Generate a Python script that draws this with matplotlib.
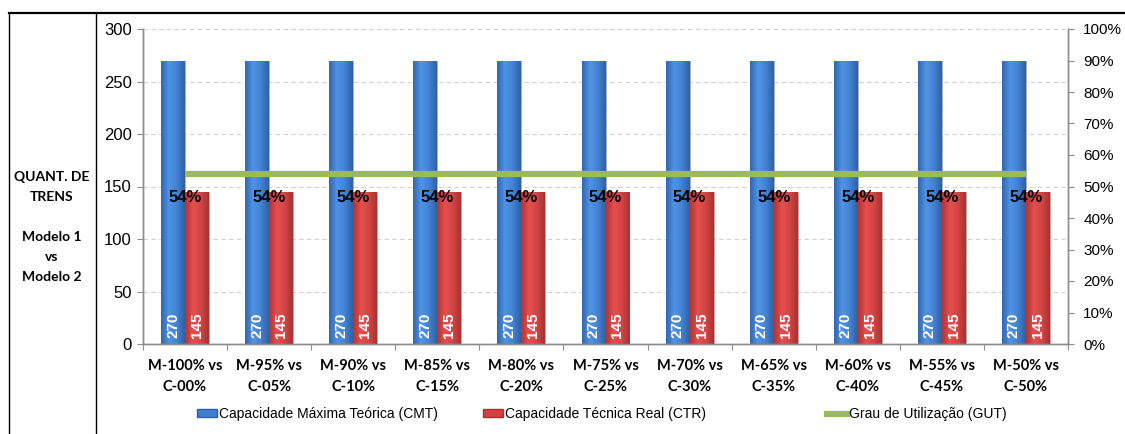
import numpy as np
import matplotlib.pyplot as plt
from matplotlib.colors import LinearSegmentedColormap
from matplotlib.lines import Line2D
from matplotlib.patches import Patch
from matplotlib.ticker import FixedLocator, PercentFormatter

plt.rcParams['font.family'] = ['Liberation Sans', 'DejaVu Sans']

categories = ['M-100% vs\nC-00%', 'M-95% vs\nC-05%', 'M-90% vs\nC-10%',
              'M-85% vs\nC-15%', 'M-80% vs\nC-20%', 'M-75% vs\nC-25%',
              'M-70% vs\nC-30%', 'M-65% vs\nC-35%', 'M-60% vs\nC-40%',
              'M-55% vs\nC-45%', 'M-50% vs\nC-50%']
cmt = [270, 270, 270, 270, 270, 270, 270, 270, 270, 270, 270]
ctr = [145, 145, 145, 145, 145, 145, 145, 145, 145, 145, 145]
gut = [0.54, 0.54, 0.54, 0.54, 0.54, 0.54, 0.54, 0.54, 0.54, 0.54, 0.54]

BLUE = '#3F7FD2'
RED = '#D64040'
GREEN = '#9BBB59'
AXIS_GRAY = '#8C8C8C'

blue_cmap = LinearSegmentedColormap.from_list('cmt', ['#3268AE', '#5093E4', '#4282D4', '#3060A2'])
red_cmap = LinearSegmentedColormap.from_list('ctr', ['#B03636', '#E64E4E', '#D44444', '#A83232'])

fig = plt.figure(figsize=(11.25, 4.34), dpi=100)
ax = fig.add_axes([143 / 1125, 1 - 344 / 434, 925 / 1125, 315 / 434])
ax2 = ax.twinx()

x = np.arange(len(categories))
width = 0.285
bars_cmt = ax.bar(x - width, cmt, width, align='edge', color=BLUE, zorder=2,
                  edgecolor='#A0A0A0', linewidth=0.6, linestyle=':')
bars_ctr = ax.bar(x, ctr, width, align='edge', color=RED, zorder=2,
                  edgecolor='#A0A0A0', linewidth=0.6, linestyle=':')

# cylinder-like shading across each bar
grad = np.linspace(0, 1, 64).reshape(1, -1)
for bars, cmap in ((bars_cmt, blue_cmap), (bars_ctr, red_cmap)):
    for rect in bars:
        x0, y0 = rect.get_x(), rect.get_y()
        im = ax.imshow(grad, cmap=cmap, aspect='auto', zorder=2.1,
                       extent=[x0, x0 + rect.get_width(), y0, y0 + rect.get_height()])
        im.set_clip_path(rect)

for bars, values in ((bars_cmt, cmt), (bars_ctr, ctr)):
    for rect, v in zip(bars, values):
        ax.annotate(f'{v}', (rect.get_x() + rect.get_width() / 2, 0), xytext=(0, 4),
                    textcoords='offset points', rotation=90, ha='center', va='bottom',
                    color='white', fontweight='bold', fontsize=11, zorder=3)

ax.set_xlim(-0.5, len(categories) - 0.5)
ax.set_ylim(0, 300)
ax.set_yticks(range(0, 301, 50))
ax.yaxis.grid(True, linestyle=(0, (4, 3)), color='#D0D0D0', linewidth=0.8)
ax.set_axisbelow(True)

ax.xaxis.set_major_locator(FixedLocator(np.arange(-0.5, len(categories), 1.0)))
ax.xaxis.set_major_formatter(plt.NullFormatter())
ax.xaxis.set_minor_locator(FixedLocator(x))
ax.set_xticklabels(categories, minor=True)
ax.tick_params(axis='x', which='major', length=4, color=AXIS_GRAY, direction='out')
ax.tick_params(axis='x', which='minor', length=0, pad=11)
for lbl in ax.get_xticklabels(minor=True):
    lbl.set_family(['Lato', 'DejaVu Sans'])
    lbl.set_fontweight('bold')
    lbl.set_fontsize(10.5)
    lbl.set_linespacing(1.65)
ax.tick_params(axis='y', length=4, color=AXIS_GRAY, labelsize=12, pad=4)

# utilisation line on the percentage axis
ax2.plot(x, gut, color=GREEN, linewidth=4.5, solid_capstyle='butt', zorder=4)
for xi, g in zip(x, gut):
    ax2.annotate(f'{g:.0%}', (xi, g), xytext=(0, -17), textcoords='offset points',
                 ha='center', va='center', fontsize=12, fontweight='bold',
                 family=['Liberation Sans Narrow', 'Liberation Sans', 'DejaVu Sans'],
                 zorder=5)
ax2.set_ylim(0, 1)
ax2.set_yticks(np.arange(0, 1.01, 0.1))
ax2.yaxis.set_major_formatter(PercentFormatter(1.0, decimals=0))
ax2.tick_params(axis='y', length=4, color=AXIS_GRAY, labelsize=11, pad=7)

for a in (ax, ax2):
    a.spines['top'].set_visible(False)
    for side in ('left', 'right', 'bottom'):
        a.spines[side].set_color(AXIS_GRAY)
        a.spines[side].set_linewidth(1.0)

# frame lines and side label
fig.add_artist(Line2D([9 / 1125, 1], [1 - 13 / 434] * 2, color='black', linewidth=1.6))
fig.add_artist(Line2D([9 / 1125] * 2, [0, 1 - 13 / 434], color='black', linewidth=1.0))
fig.add_artist(Line2D([96 / 1125] * 2, [0, 1 - 13 / 434], color='black', linewidth=1.0))
fig.text(52 / 1125, 1 - 227 / 434, 'QUANT. DE\nTRENS\n\nModelo 1\nvs\nModelo 2',
         ha='center', va='center', fontsize=10, fontweight='bold',
         family=['Lato', 'DejaVu Sans'], linespacing=1.8)

legend_items = [
    (Patch(facecolor=BLUE, edgecolor='#2E5F9F'), 'Capacidade Máxima Teórica (CMT)', 197),
    (Patch(facecolor=RED, edgecolor='#A83232'), 'Capacidade Técnica Real (CTR)', 483),
    (Line2D([], [], color=GREEN, linewidth=4.5), 'Grau de Utilização (GUT)', 827),
]
for handle, label, left in legend_items:
    fig.legend([handle], [label], loc='center left', frameon=False,
               bbox_to_anchor=(left / 1125, 1 - 414 / 434), borderpad=0,
               borderaxespad=0, handlelength=1.45, handleheight=0.5,
               handletextpad=0.1, fontsize=10)

fig.savefig('out.png', dpi=100)
